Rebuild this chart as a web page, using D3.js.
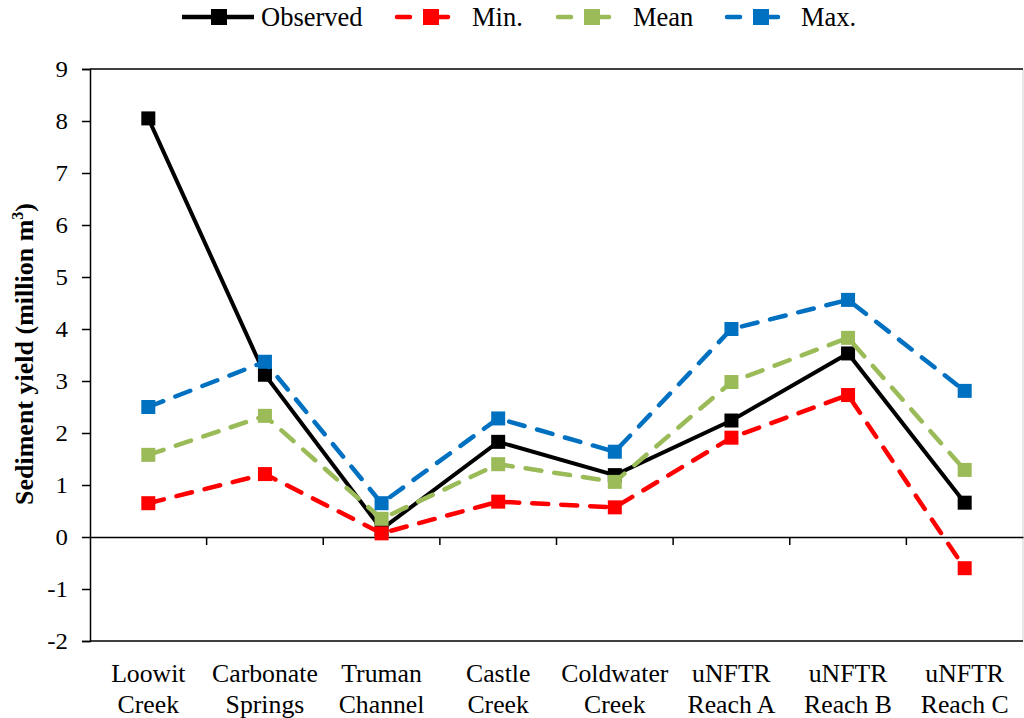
<html>
<head>
  <meta charset="utf-8" />
  <script src="https://cdnjs.cloudflare.com/ajax/libs/d3/7.8.5/d3.min.js"></script>
  <style>
    body { margin: 0; background: #fff; }
    text { font-family: "Liberation Serif", "Times New Roman", serif; fill: #000; }
  </style>
</head>
<body>
  <svg width="1024" height="718"></svg>
  <script>
  // data
  var sites = [["Loowit", "Creek"], ["Carbonate", "Springs"], ["Truman", "Channel"], ["Castle", "Creek"],
               ["Coldwater", "Creek"], ["uNFTR", "Reach A"], ["uNFTR", "Reach B"], ["uNFTR", "Reach C"]]
  var observed = [8.05, 3.12, 0.15, 1.83, 1.19, 2.24, 3.53, 0.66]
  var minVals  = [0.65, 1.21, 0.07, 0.68, 0.57, 1.91, 2.73, -0.60]
  var meanVals = [1.58, 2.33, 0.35, 1.40, 1.06, 2.98, 3.83, 1.29]
  var maxVals  = [2.50, 3.37, 0.65, 2.28, 1.64, 4.00, 4.56, 2.81]
  var yTicks = [-2, -1, 0, 1, 2, 3, 4, 5, 6, 7, 8, 9]

  var series = [
    { name: "Observed", values: observed, color: "#000000", dash: null },
    { name: "Min.", values: minVals, color: "#ff0000", dash: "16,13" },
    { name: "Mean", values: meanVals, color: "#9bbb59", dash: "16,13" },
    { name: "Max.", values: maxVals, color: "#0070c0", dash: "16,13" }
  ]

  var svg = d3.select("svg")
  var pLeft = 90, pRight = 1023, pTop = 69, pBottom = 641

  var xScale = d3.scaleBand().domain(d3.range(sites.length)).range([pLeft, pRight])
  var yScale = d3.scaleLinear().domain([-2, 9]).range([pBottom, pTop])

  function label(parent, x, y, str, size, sx, anchor) {
    var g = parent.append("g").attr("transform", "translate(" + x + "," + y + ") scale(" + sx + ",1)")
    return g.append("text").attr("text-anchor", anchor).attr("font-size", size).text(str)
  }

  // frame
  svg.append("line").attr("x1", pRight).attr("x2", pRight).attr("y1", pTop).attr("y2", pBottom)
    .attr("stroke", "#d0d0d0").attr("stroke-width", 1)
  svg.append("line").attr("x1", pLeft).attr("x2", pRight).attr("y1", pTop).attr("y2", pTop)
    .attr("stroke", "#000").attr("stroke-width", 1.5)
  svg.append("line").attr("x1", pLeft).attr("x2", pRight).attr("y1", pBottom).attr("y2", pBottom)
    .attr("stroke", "#000").attr("stroke-width", 1.5)

  // y axis
  var yAxis = svg.append("g")
    .attr("transform", "translate(" + pLeft + ",0)")
    .call(d3.axisLeft(yScale).tickValues(yTicks).tickSize(8).tickFormat(""))
  yAxis.select(".domain").attr("stroke", "#000").attr("stroke-width", 1.5)
  yAxis.selectAll(".tick line").attr("stroke", "#000").attr("stroke-width", 1.5)
  var yLab = svg.append("g")
  yTicks.forEach(function (t) {
    label(yLab, 68, yScale(t) + 8, String(t), 23, 1.08, "end")
  })

  // zero line with category ticks
  var xAxis = svg.append("g")
    .attr("transform", "translate(0," + yScale(0) + ")")
    .call(d3.axisBottom(xScale).tickSize(0).tickFormat(""))
  xAxis.select(".domain").attr("stroke", "#000").attr("stroke-width", 1.5)
  xAxis.selectAll(".sep")
    .data(d3.range(1, sites.length))
    .enter().append("line")
      .attr("x1", d => xScale(d)).attr("x2", d => xScale(d))
      .attr("y1", 0).attr("y2", 8)
      .attr("stroke", "#000").attr("stroke-width", 1.5)

  // category labels
  var labels = svg.append("g")
  sites.forEach(function (s, i) {
    var cx = xScale(i) + xScale.bandwidth() / 2
    label(labels, cx, 682, s[0], 25, 1.03, "middle")
    label(labels, cx, 713, s[1], 25, 1.03, "middle")
  })

  // y title
  var yt = svg.append("text")
    .attr("transform", "translate(33," + ((pTop + pBottom) / 2 - 1) + ") rotate(-90)")
    .attr("text-anchor", "middle")
    .attr("font-size", 26)
    .attr("font-weight", "bold")
  yt.append("tspan").text("Sediment yield (million m")
  yt.append("tspan").attr("font-size", 16).attr("dy", -10).text("3")
  yt.append("tspan").attr("dy", 10).text(")")

  // series
  var line = d3.line()
    .x((d, i) => xScale(i) + xScale.bandwidth() / 2)
    .y(d => yScale(d))

  series.forEach(function (s) {
    var g = svg.append("g")
    g.append("path")
      .attr("d", line(s.values))
      .attr("fill", "none")
      .attr("stroke", s.color)
      .attr("stroke-width", s.dash ? 4.5 : 4)
      .attr("stroke-linecap", s.dash ? "round" : "butt")
      .attr("stroke-dasharray", s.dash)
    g.selectAll("rect")
      .data(s.values)
      .enter().append("rect")
        .attr("x", (d, i) => xScale(i) + xScale.bandwidth() / 2 - 7)
        .attr("y", d => yScale(d) - 7)
        .attr("width", 14).attr("height", 14)
        .attr("fill", s.color)
  })

  // legend
  var legendX = [182, 395, 556, 725]
  var legendW = [72, 55, 55, 55]
  var textX = [261, 472, 633, 801]
  var legend = svg.append("g")
  series.forEach(function (s, i) {
    var g = legend.append("g").attr("transform", "translate(" + legendX[i] + ",17)")
    if (s.dash) {
      g.append("line")
        .attr("x1", 2).attr("x2", 15).attr("y1", 0).attr("y2", 0)
        .attr("stroke", s.color).attr("stroke-width", 4.5).attr("stroke-linecap", "round")
      g.append("line")
        .attr("x1", 35).attr("x2", legendW[i] - 2).attr("y1", 0).attr("y2", 0)
        .attr("stroke", s.color).attr("stroke-width", 4.5).attr("stroke-linecap", "round")
      g.append("rect").attr("x", 28).attr("y", -8).attr("width", 16).attr("height", 16).attr("fill", s.color)
    } else {
      g.append("line")
        .attr("x1", 0).attr("x2", legendW[i]).attr("y1", 0).attr("y2", 0)
        .attr("stroke", s.color).attr("stroke-width", 4.5)
      g.append("rect").attr("x", 29).attr("y", -8).attr("width", 16).attr("height", 16).attr("fill", s.color)
    }
    label(legend, textX[i], 26, s.name, 26.5, 1, "start")
  })
  </script>
</body>
</html>
